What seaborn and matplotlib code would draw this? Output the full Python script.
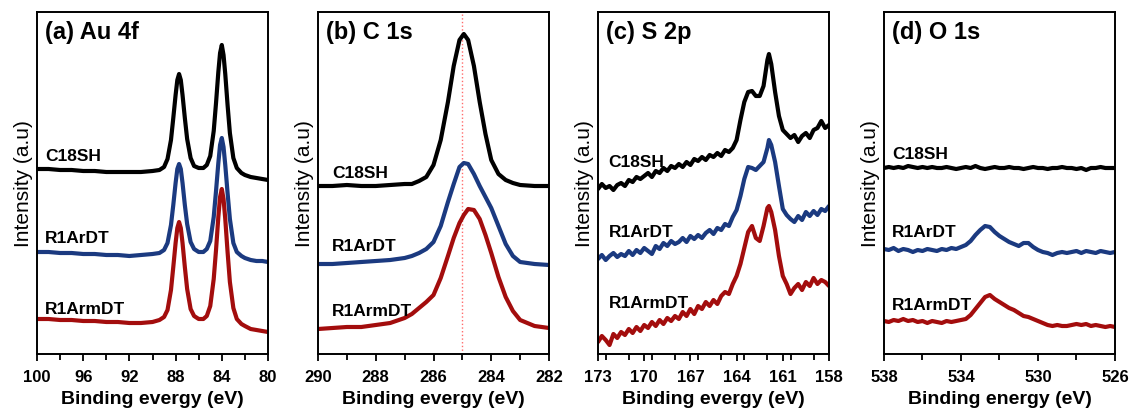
import pandas as pd
import matplotlib.pyplot as plt
from matplotlib.ticker import MultipleLocator
import seaborn as sns

samples = ['C18SH', 'R1ArDT', 'R1ArmDT']
colors = ['#000000', '#1b3a80', '#a30d0d']

# (a) Au 4f
au_x = [100, 99, 98, 97, 96, 95, 94, 93, 92, 91, 90, 89.4, 89.0, 88.7, 88.4, 88.2, 88.0, 87.85,
        87.7, 87.55, 87.4, 87.2, 87.0, 86.7, 86.4, 86.0, 85.85, 85.6, 85.3, 85.0, 84.7, 84.5,
        84.3, 84.15, 84.0, 83.85, 83.7, 83.5, 83.3, 83.0, 82.7, 82.3, 82.0, 81.5, 81.0, 80.5, 80.0]
au_c18sh = [185, 185, 184, 184, 183, 183, 182, 182, 182, 182, 183, 184, 187, 195, 214, 236, 259, 274,
            280, 274, 259, 236, 215, 196, 188, 186, 186, 186, 189, 198, 223, 251,
            282, 301, 309, 299, 280, 249, 221, 196, 186, 181, 179, 177, 176, 175, 174]
au_r1ardt = [102, 102, 101, 101, 100, 100, 99, 99, 98, 99, 100, 101, 104, 111, 129, 149, 171, 185,
             190, 185, 171, 149, 130, 112, 105, 102, 102, 102, 105, 113, 137, 163,
             191, 209, 216, 207, 189, 161, 135, 111, 102, 98, 96, 94, 93, 93, 92]
au_r1armdt = [35, 35, 34, 34, 33, 33, 32, 32, 31, 31, 32, 34, 37, 44, 64, 87, 111, 126,
              132, 126, 111, 87, 65, 45, 38, 35, 35, 35, 38, 48, 75, 104,
              137, 157, 165, 155, 135, 102, 72, 46, 35, 30, 28, 25, 24, 23, 22]

# (b) C 1s
c_x = [290, 289.5, 289, 288.5, 288, 287.5, 287, 286.75, 286.5, 286.25, 286, 285.75, 285.5, 285.3,
       285.1, 284.95, 284.8, 284.6, 284.4, 284.2, 284, 283.75, 283.5, 283.25, 283, 282.5, 282]
c_c18sh = [168, 168, 169, 168, 168, 169, 170, 170, 173, 177, 189, 214, 252, 288,
           314, 320, 314, 288, 252, 220, 194, 180, 174, 171, 169, 168, 168]
c_r1ardt = [90, 90, 91, 92, 93, 94, 96, 98, 101, 105, 112, 128, 152, 170,
            187, 191, 190, 180, 168, 157, 146, 128, 110, 98, 92, 90, 89]
c_r1armdt = [25, 26, 27, 27, 29, 31, 36, 40, 46, 52, 59, 76, 98, 116,
             131, 139, 145, 144, 135, 119, 101, 77, 57, 43, 34, 28, 26]

# (c) S 2p
s_x = [173.0, 172.75, 172.5, 172.25, 172.0, 171.75, 171.5, 171.25, 171.0, 170.75, 170.5, 170.25,
       170.0, 169.75, 169.5, 169.25, 169.0, 168.75, 168.5, 168.25, 168.0, 167.75, 167.5, 167.25,
       167.0, 166.75, 166.5, 166.25, 166.0, 165.75, 165.5, 165.25, 165.0, 164.75, 164.5, 164.25,
       164.0, 163.75, 163.5, 163.25, 163.0, 162.75, 162.5, 162.25, 162.0, 161.9, 161.75, 161.5,
       161.25, 161.0, 160.75, 160.5, 160.25, 160.0, 159.75, 159.5, 159.25, 159.0, 158.75, 158.5,
       158.25, 158.0]
s_c18sh = [165, 170, 166, 168, 164, 169, 171, 168, 174, 172, 177, 175,
           178, 181, 177, 183, 181, 186, 183, 188, 186, 190, 187, 192,
           189, 195, 193, 197, 194, 199, 197, 201, 198, 204, 202, 206,
           214, 234, 252, 262, 263, 258, 258, 268, 294, 300, 290, 262,
           238, 224, 220, 216, 219, 212, 218, 221, 216, 224, 226, 233,
           226, 229]
s_r1ardt = [95, 99, 94, 98, 101, 97, 100, 98, 103, 99, 104, 101,
            106, 103, 100, 108, 105, 111, 108, 113, 110, 112, 116, 112,
            118, 115, 119, 116, 121, 124, 120, 126, 124, 130, 128, 137,
            144, 158, 175, 187, 186, 184, 188, 192, 206, 214, 209, 192,
            168, 145, 139, 135, 132, 138, 134, 142, 138, 143, 139, 145,
            143, 148]
s_r1armdt = [12, 18, 14, 9, 20, 16, 22, 19, 25, 21, 27, 23,
             29, 26, 32, 28, 34, 30, 36, 33, 38, 35, 42, 38,
             45, 40, 48, 45, 52, 48, 54, 50, 58, 62, 60, 70,
             78, 90, 106, 122, 128, 116, 113, 128, 146, 148, 142, 124,
             98, 78, 70, 60, 66, 70, 64, 72, 68, 76, 70, 74,
             72, 68]

# (d) O 1s
o_x = [538.0, 537.75, 537.5, 537.25, 537.0, 536.75, 536.5, 536.25, 536.0, 535.75,
       535.5, 535.25, 535.0, 534.75, 534.5, 534.25, 534.0, 533.75, 533.5, 533.25,
       533.0, 532.75, 532.5, 532.25, 532.0, 531.75, 531.5, 531.25, 531.0, 530.75,
       530.5, 530.25, 530.0, 529.75, 529.5, 529.25, 529.0, 528.75, 528.5, 528.25,
       528.0, 527.75, 527.5, 527.25, 527.0, 526.75, 526.5, 526.25, 526.0]
o_c18sh = [186, 187, 186, 187, 186, 188, 187, 186, 187, 186,
           187, 186, 186, 187, 186, 185, 186, 187, 186, 188,
           186, 185, 186, 187, 186, 186, 187, 186, 186, 185,
           186, 187, 186, 186, 185, 186, 186, 187, 186, 186,
           185, 186, 184, 186, 186, 187, 186, 186, 186]
o_r1ardt = [105, 104, 106, 103, 105, 104, 102, 104, 103, 105,
            104, 103, 105, 104, 106, 105, 107, 109, 113, 119,
            124, 128, 127, 122, 118, 115, 112, 110, 108, 111,
            111, 107, 104, 102, 101, 99, 101, 102, 101, 102,
            103, 101, 103, 102, 101, 103, 102, 101, 102]
o_r1armdt = [33, 32, 34, 33, 35, 33, 34, 32, 33, 31,
             33, 32, 31, 33, 32, 33, 34, 35, 39, 45,
             51, 57, 59, 55, 52, 49, 46, 44, 41, 38,
             37, 35, 33, 31, 29, 28, 29, 28, 28, 29,
             30, 29, 30, 28, 29, 28, 27, 28, 27]

panels = [
    ('(a) Au 4f', au_x, [au_c18sh, au_r1ardt, au_r1armdt], (100, 80), [100, 96, 92, 88, 84, 80], 2,
     'Binding evergy (eV)', [0.579, 0.342, 0.132], 0.035),
    ('(b) C 1s', c_x, [c_c18sh, c_r1ardt, c_r1armdt], (290, 282), [290, 288, 286, 284, 282], 1,
     'Binding evergy (eV)', [0.532, 0.316, 0.126], 0.06),
    ('(c) S 2p', s_x, [s_c18sh, s_r1ardt, s_r1armdt], (173, 158), [173, 170, 167, 164, 161, 158], 1.5,
     'Binding evergy (eV)', [0.564, 0.357, 0.152], 0.045),
    ('(d) O 1s', o_x, [o_c18sh, o_r1ardt, o_r1armdt], (538, 526), [538, 534, 530, 526], 2,
     'Binding energy (eV)', [0.585, 0.357, 0.146], 0.035),
]
lefts = [37, 318, 598, 884]

sns.set_theme(style="ticks")
plt.rcParams['font.family'] = ['Liberation Sans', 'DejaVu Sans']
plt.rcParams['text.color'] = 'black'
plt.rcParams['axes.labelcolor'] = 'black'
plt.rcParams['xtick.color'] = 'black'

fig = plt.figure(figsize=(11.31, 4.10), dpi=100)
W, H = 1131, 410

for i, (title, xs, ys, lim, ticks, minor, xlabel, label_y, label_x) in enumerate(panels):
    ax = fig.add_axes([lefts[i] / W, 55 / H, 231 / W, 342 / H])
    frames = []
    for name, vals in zip(samples, ys):
        frames.append(pd.DataFrame({'energy': xs, 'intensity': vals, 'sample': name}))
    df = pd.concat(frames, ignore_index=True)
    sns.lineplot(data=df, x='energy', y='intensity', hue='sample', palette=colors,
                 linewidth=3, legend=False, ax=ax)
    if i == 1:
        ax.axvline(285.0, color='#ff6b6b', linestyle=':', linewidth=1.0, zorder=0)
    ax.set_xlim(lim)
    ax.set_ylim(0, 342)
    ax.set_yticks([])
    ax.set_xticks(ticks, labels=[str(t) for t in ticks], fontsize=12, fontweight='bold')
    ax.xaxis.set_minor_locator(MultipleLocator(minor))
    ax.tick_params(axis='x', which='major', direction='out', length=5, width=1.3, pad=6)
    ax.tick_params(axis='x', which='minor', direction='out', length=4, width=1.3)
    for sp in ax.spines.values():
        sp.set_linewidth(1.4)
        sp.set_color('black')
    ax.set_xlabel(xlabel, fontsize=14, fontweight='bold', labelpad=4)
    ax.set_ylabel('Intensity (a.u)', fontsize=15, labelpad=3)
    ax.text(0.035, 0.942, title, transform=ax.transAxes, fontsize=17, fontweight='bold',
            va='center', ha='left')
    for name, yy in zip(samples, label_y):
        ax.text(label_x, yy, name, transform=ax.transAxes, fontsize=12.5, fontweight='bold',
                va='center', ha='left')

fig.savefig('out.png', dpi=100)
